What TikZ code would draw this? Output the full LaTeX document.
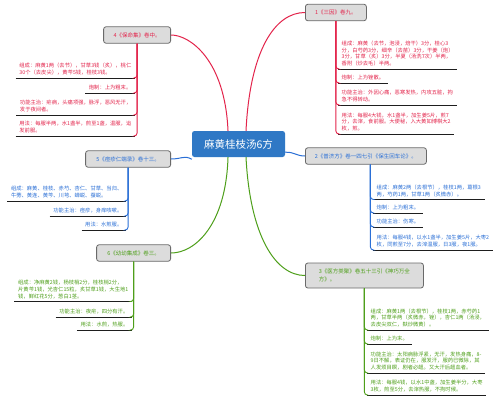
\documentclass[tikz,border=0pt]{standalone}
\usepackage{fontspec}
\setmainfont{Noto Sans CJK SC}
\usetikzlibrary{calc}
\definecolor{mred}{HTML}{E3244B}
\definecolor{mblue}{HTML}{2A6FD6}
\definecolor{mgreen}{HTML}{4E9F1A}
\definecolor{hubblue}{HTML}{2F78C5}
\definecolor{tfill}{HTML}{DCDCDC}
\definecolor{tdraw}{HTML}{6A6A6A}
\definecolor{uline}{HTML}{1E1E1E}
\tikzset{
  hub/.style={fill=hubblue, text=white, rounded corners=2.5pt, minimum width=93pt, minimum height=26pt, inner sep=0pt, font=\fontsize{10.5}{12}\selectfont},
  titlebox/.style={fill=tfill, draw=tdraw, line width=0.8pt, rounded corners=2.5pt, minimum height=16.5pt, inner xsep=6pt, inner ysep=2pt, font=\fontsize{5.5}{7.5}\selectfont},
  leaf/.style={font=\fontsize{5.3}{6.8}\selectfont, align=left, inner xsep=3.5pt, inner ysep=2.6pt},
  underl/.style={draw=uline, line width=0.8pt},
  branch/.style={line width=0.9pt, rounded corners=3pt},
  main/.style={line width=1pt},
}
\begin{document}
\begin{tikzpicture}[x=1pt, y=-1pt]
\useasboundingbox[fill=white] (0,0) rectangle (500,400);

% hub
\node[hub] (c) at (238.5,144) {麻黄桂枝汤6方};

% titles
\node[titlebox, text=mred, minimum width=61pt, anchor=west] (t1) at (305,12.5) {1《三因》卷九。};
\node[titlebox, text=mblue, minimum width=121pt, anchor=west] (t2) at (305,156) {2《普济方》卷一四七引《保生回车论》。};
\node[titlebox, text=mgreen, minimum width=118pt, minimum height=25pt, align=left, anchor=west] (t3) at (305,275.5) {3《医方类聚》卷五十三引《神巧万全\\方》。};
\node[titlebox, text=mred, minimum width=67pt, anchor=east] (t4) at (171,35) {4《保命集》卷中。};
\node[titlebox, text=mblue, minimum width=85pt, anchor=east] (t5) at (171,159) {5《痘疹仁端录》卷十三。};
\node[titlebox, text=mgreen, minimum width=74pt, anchor=east] (t6) at (171,253) {6《幼幼集成》卷三。};

% main connectors
\draw[main, mred] ($(c.north)+(-10.5,0)$) .. controls (225,60) and (190,35) .. (t4.east);
\draw[main, mred] ($(c.north)+(7.5,0)$) .. controls (250,50) and (275,12.5) .. (t1.west);
\draw[main, mblue] ($(c.south west)+(0,2)$) .. controls (184,155) and (182,159) .. (t5.east);
\draw[main, mblue] ($(c.south east)+(0,-5)$) .. controls (295,152) and (296,156) .. (t2.west);
\draw[main, mgreen] ($(c.south)+(-10.5,0)$) .. controls (226,225) and (195,253) .. (t6.east);
\draw[main, mgreen] ($(c.south)+(7.5,0)$) .. controls (250,235) and (275,275.5) .. (t3.west);

% leaves of 1
\node[leaf, text=mred, anchor=south west] (l1a) at (338,69) {组成：麻黄（去节，泡浸，焙干）3分，桂心3\\分，白芍药3分，细辛（去苗）3分，干姜（炮）\\3分，甘草（炙）3分，半夏（汤洗7次）半两，\\香附（炒去毛）半两。};
\node[leaf, text=mred, anchor=south west] (l1b) at (338,83) {炮制：上为锉散。};
\node[leaf, text=mred, anchor=south west] (l1c) at (338,105) {功能主治：外因心痛，恶寒发热，内攻五脏，拘\\急不得转动。};
\node[leaf, text=mred, anchor=south west] (l1d) at (338,134) {用法：每服4大钱，水1盏半，加生姜5片，煎7\\分，去滓，食前服。大便秘，入大黄如博棋大2\\枚，煎。};
\foreach \l in {l1a,l1b,l1c,l1d} {
  \draw[underl] (\l.south west) -- (\l.south east);
  \draw[branch, mred] (t1.south) |- (\l.south west);
}

% leaves of 2
\node[leaf, text=mblue, anchor=south west] (l2a) at (373,199.5) {组成：麻黄2两（去根节），桂枝1两，葛根3\\两，芍药1两，甘草1两（炙微赤）。};
\node[leaf, text=mblue, anchor=south west] (l2b) at (373,213) {炮制：上为粗末。};
\node[leaf, text=mblue, anchor=south west] (l2c) at (373,227) {功能主治：伤寒。};
\node[leaf, text=mblue, anchor=south west] (l2d) at (373,250) {用法：每服4钱，以水1盏半，加生姜5片，大枣2\\枚，同煎至7分，去滓温服，日3服，夜1服。};
\foreach \l in {l2a,l2b,l2c,l2d} {
  \draw[underl] (\l.south west) -- (\l.south east);
  \draw[branch, mblue] ($(t2.south)+(4.5,0)$) |- (\l.south west);
}

% leaves of 3
\node[leaf, text=mgreen, anchor=south west] (l3a) at (367,330) {组成：麻黄1两（去根节），桂枝1两，赤芍药1\\两，甘草半两（炙微赤，锉），杏仁1两（汤浸，\\去皮尖双仁，麸炒微黄）。};
\node[leaf, text=mgreen, anchor=south west] (l3b) at (367,344) {炮制：上为末。};
\node[leaf, text=mgreen, anchor=south west] (l3c) at (367,373) {功能主治：太阳病脉浮紧，无汗，发热身痛，8-\\9日不解，表证仍在，服发汗，服药已微除，其\\人发烦目瞑，剧者必衄。又大汗后衄血者。};
\node[leaf, text=mgreen, anchor=south west] (l3d) at (367,395) {用法：每服4钱，以水1中盏，加生姜半分，大枣\\3枚，煎至5分，去滓热服，不拘时候。};
\foreach \l in {l3a,l3b,l3c,l3d} {
  \draw[underl] (\l.south west) -- (\l.south east);
  \draw[branch, mgreen] (t3.south) |- (\l.south west);
}

% leaves of 4
\node[leaf, text=mred, anchor=south east] (l4a) at (135,78) {组成：麻黄1两（去节），甘草3钱（炙），桃仁\\30个（去皮尖），黄芩5钱，桂枝3钱。};
\node[leaf, text=mred, anchor=south east] (l4b) at (135,93) {炮制：上为粗末。};
\node[leaf, text=mred, anchor=south east] (l4c) at (135,115) {功能主治：疟病，头痛项强，脉浮，恶风无汗，\\发于夜间者。};
\node[leaf, text=mred, anchor=south east] (l4d) at (135,136) {用法：每服半两，水1盏半，煎至1盏，温服，迨\\发前服。};
\foreach \l in {l4a,l4b,l4c,l4d} {
  \draw[underl] (\l.south west) -- (\l.south east);
  \draw[branch, mred] (t4.south) |- (\l.south east);
}

% leaves of 5
\node[leaf, text=mblue, anchor=south east] (l5a) at (126,201) {组成：麻黄、桂枝、赤芍、杏仁、甘草、当归、\\牛蒡、黄连、黄芩、川芎、蝉蜕、蚕蜕。};
\node[leaf, text=mblue, anchor=south east] (l5b) at (126,216) {功能主治：痘疹，身痒咳嗽。};
\node[leaf, text=mblue, anchor=south east] (l5c) at (126,230) {用法：水煎服。};
\foreach \l in {l5a,l5b,l5c} {
  \draw[underl] (\l.south west) -- (\l.south east);
  \draw[branch, mblue] (t5.south) |- (\l.south east);
}

% leaves of 6
\node[leaf, text=mgreen, anchor=south east] (l6a) at (132,301.5) {组成：净麻黄2钱，杨枝梢2分，桂枝梢2分，\\片黄芩1钱，光杏仁15粒，炙甘草1钱，大生地1\\钱，鲜红花5分，葱白1茎。};
\node[leaf, text=mgreen, anchor=south east] (l6b) at (132,317) {功能主治：夜疟，四分有汗。};
\node[leaf, text=mgreen, anchor=south east] (l6c) at (132,330) {用法：水煎，热服。};
\foreach \l in {l6a,l6b,l6c} {
  \draw[underl] (\l.south west) -- (\l.south east);
  \draw[branch, mgreen] (t6.south) |- (\l.south east);
}
\end{tikzpicture}
\end{document}
